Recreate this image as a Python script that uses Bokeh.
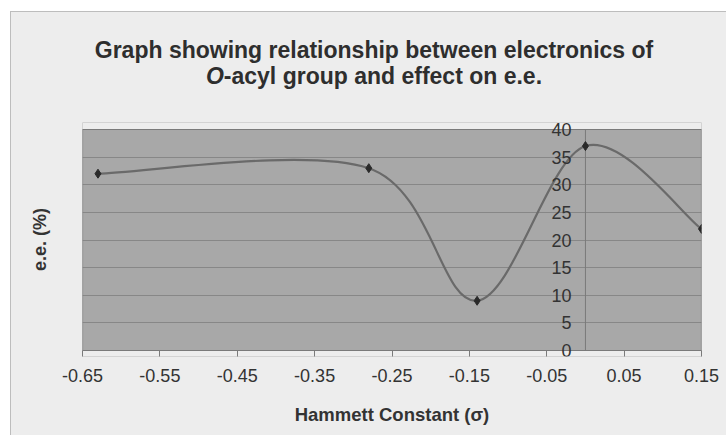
from bokeh.plotting import figure
from bokeh.layouts import column
from bokeh.models import LinearAxis, FixedTicker, PrintfTickFormatter, Range1d, ColumnDataSource
from bokeh.core.properties import value
from bokeh.embed import file_html
from bokeh.resources import INLINE

# ---- data ----
hammett = [-0.63, -0.28, -0.14, 0.0, 0.15]
ee = [32, 33, 9, 37, 22]
x_ticks = [-0.65, -0.55, -0.45, -0.35, -0.25, -0.15, -0.05, 0.05, 0.15]
y_ticks = [0, 5, 10, 15, 20, 25, 30, 35, 40]
y_axis_cross = 0.0
title_line1 = "Graph showing relationship between electronics of"
title_line2_italic = "O"
title_line2_rest = "-acyl group and effect on e.e."
x_label = "Hammett Constant (σ)"
y_label = "e.e. (%)"

FONT = "Liberation Sans"
BG = "#ededed"
PLOT_BG = "#a8a8a8"
GRID = "#878787"
EDGE = "#7a7a7a"
TXT = "#2e2e2e"

W = 715
HEAD_H = 100
MAIN_H = 323
ML, MR = 71, 25          # left / right borders around the plot frame

# ---------------- header with the two-line title ----------------
head = figure(width=W, height=HEAD_H, output_backend="svg", toolbar_location=None, title=None,
              x_range=Range1d(0, W - ML - MR), y_range=Range1d(HEAD_H, 0),
              x_axis_type=None, y_axis_type=None,
              min_border_left=ML, min_border_right=MR, min_border_top=0, min_border_bottom=0,
              background_fill_alpha=0, border_fill_alpha=0)
head.outline_line_color = None
head.grid.visible = False

fs = 23
cx = 373.5 - 11 - ML
base1, base2 = 37, 63
head.text(x=[cx], y=[base1], text=[title_line1], text_font=value(FONT),
          text_font_size=value(f"{fs}px"), text_font_style=value("bold"),
          text_color=TXT, text_align=value("center"), text_baseline=value("alphabetic"))
w_o = 0.778 * fs
w_rest = 13.837 * fs
join = cx - (w_o + w_rest) / 2 + w_o
head.text(x=[join], y=[base2], text=[title_line2_italic], text_font=value(FONT),
          text_font_size=value(f"{fs}px"), text_font_style=value("bold italic"),
          text_color=TXT, text_align=value("right"), text_baseline=value("alphabetic"))
head.text(x=[join], y=[base2], text=[title_line2_rest], text_font=value(FONT),
          text_font_size=value(f"{fs}px"), text_font_style=value("bold"),
          text_color=TXT, text_align=value("left"), text_baseline=value("alphabetic"))

# ---------------- main chart ----------------
plot_px = 221.0          # height of the grey plot area in pixels
ext_top_px, ext_bot_px = 7.0, 6.0
u = (y_ticks[-1] - y_ticks[0]) / plot_px
y_lo = y_ticks[0] - ext_bot_px * u
y_hi = y_ticks[-1] + ext_top_px * u

p = figure(width=W, height=MAIN_H, output_backend="svg", toolbar_location=None, title=None,
           x_range=Range1d(x_ticks[0], x_ticks[-1]), y_range=Range1d(y_lo, y_hi),
           min_border_left=ML, min_border_right=MR, min_border_top=10, min_border_bottom=79,
           background_fill_color=PLOT_BG, border_fill_color=BG)
p.outline_line_color = None

p.xgrid.visible = False
p.ygrid[0].ticker = FixedTicker(ticks=y_ticks)
p.ygrid[0].grid_line_color = GRID
p.ygrid[0].grid_line_width = 1

# bands above / below the plot area (frame is slightly taller so the 0 and 40 labels are not cut)
p.quad(left=[x_ticks[0], x_ticks[0]], right=[x_ticks[-1], x_ticks[-1]],
       bottom=[y_ticks[-1], y_lo], top=[y_hi, y_ticks[0]],
       fill_color=BG, line_color=None)
# plot area border
p.quad(left=[x_ticks[0]], right=[x_ticks[-1]], bottom=[y_ticks[0]], top=[y_ticks[-1]],
       fill_color=None, line_color=EDGE, line_width=1.2)
# vertical axis line at x = 0
p.segment(x0=[y_axis_cross], y0=[y_ticks[0]], x1=[y_axis_cross], y1=[y_ticks[-1]],
          line_color=EDGE, line_width=1)

# x axis
xa = p.xaxis[0]
xa.ticker = FixedTicker(ticks=x_ticks)
xa.formatter = PrintfTickFormatter(format="%.2f")
xa.axis_line_color = None
xa.major_tick_line_color = EDGE
xa.major_tick_out = 0
xa.major_tick_in = 6
xa.minor_tick_line_color = None
xa.major_label_text_font = FONT
xa.major_label_text_font_size = "18px"
xa.major_label_text_color = "#333333"
xa.major_label_standoff = 12
xa.axis_label = x_label
xa.axis_label_text_font = FONT
xa.axis_label_text_font_size = "18.5px"
xa.axis_label_text_font_style = "bold"
xa.axis_label_text_color = "#333333"
xa.axis_label_standoff = 19

# y axis: title only on the left
ya = p.yaxis[0]
ya.ticker = FixedTicker(ticks=[])
ya.axis_line_color = None
ya.major_tick_line_color = None
ya.minor_tick_line_color = None
ya.major_tick_out = 0
ya.major_tick_in = 0
ya.major_label_standoff = 0
ya.axis_label = y_label
ya.axis_label_text_font = FONT
ya.axis_label_text_font_size = "18px"
ya.axis_label_text_font_style = "bold"
ya.axis_label_text_color = "#333333"
ya.axis_label_standoff = 33

# y axis ticks/labels crossing at x = 0
ya2 = LinearAxis(fixed_location=y_axis_cross, ticker=FixedTicker(ticks=y_ticks))
ya2.axis_line_color = None
ya2.major_tick_line_color = None
ya2.minor_tick_line_color = None
ya2.major_tick_out = 0
ya2.major_tick_in = 0
ya2.major_label_text_font = FONT
ya2.major_label_text_font_size = "18px"
ya2.major_label_text_color = "#333333"
ya2.major_label_standoff = 14
p.add_layout(ya2, "left")

# smoothed line (Bezier segments through the data points)
n = len(hammett)
seg = dict(x0=[], y0=[], x1=[], y1=[], cx0=[], cy0=[], cx1=[], cy1=[])
for i in range(n - 1):
    xm, ym = (hammett[i - 1], ee[i - 1]) if i > 0 else (hammett[i], ee[i])
    xa0, ya0 = hammett[i], ee[i]
    xb0, yb0 = hammett[i + 1], ee[i + 1]
    xp, yp = (hammett[i + 2], ee[i + 2]) if i + 2 < n else (hammett[i + 1], ee[i + 1])
    seg["x0"].append(xa0); seg["y0"].append(ya0)
    seg["x1"].append(xb0); seg["y1"].append(yb0)
    seg["cx0"].append(xa0 + (xb0 - xm) / 6.0); seg["cy0"].append(ya0 + (yb0 - ym) / 6.0)
    seg["cx1"].append(xb0 - (xp - xa0) / 6.0); seg["cy1"].append(yb0 - (yp - ya0) / 6.0)
p.bezier(x0="x0", y0="y0", x1="x1", y1="y1", cx0="cx0", cy0="cy0", cx1="cx1", cy1="cy1",
         source=ColumnDataSource(seg), line_color="#6a6a6a", line_width=2.2)

p.scatter(hammett, ee, marker="diamond", size=9, color="#2a2a2a")

layout = column(head, p, spacing=0)
layout.styles = {"margin-left": "10px", "margin-top": "11px", "background-color": BG,
                 "border-left": "1px solid #bdbdbd", "border-top": "1px solid #bdbdbd"}

open("out.html", "w").write(file_html(layout, INLINE))
